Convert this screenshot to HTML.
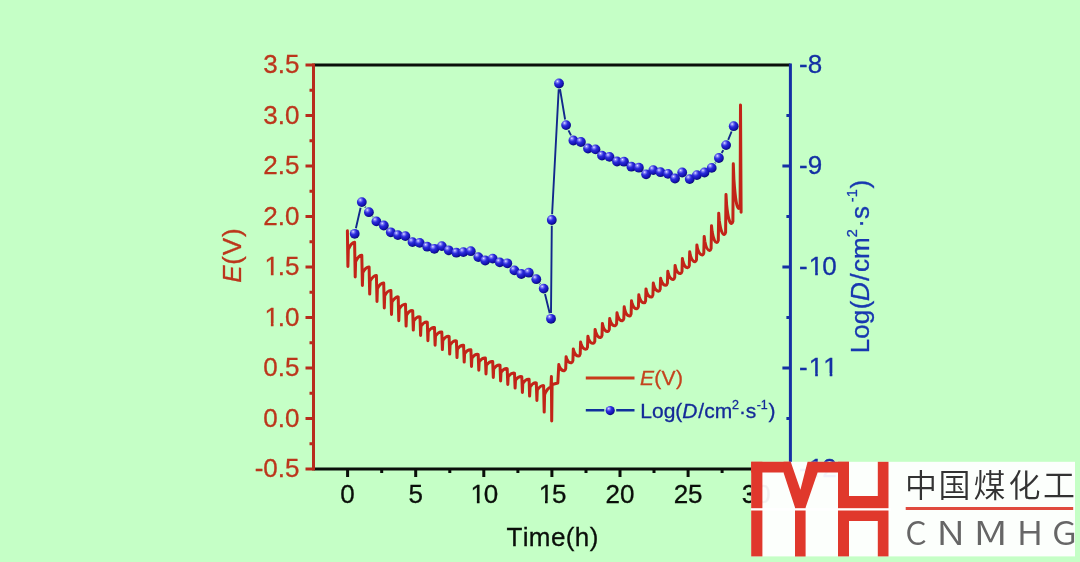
<!DOCTYPE html>
<html><head><meta charset="utf-8"><style>html,body{margin:0;padding:0;background:#c5ffc6;}svg{display:block;font-kerning:none;font-feature-settings:"kern" 0}</style></head>
<body><svg width="1080" height="562" viewBox="0 0 1080 562">
<rect x="0" y="0" width="1080" height="562" fill="#c5ffc6"/>
<path d="M347.4,230.7 L347.9,266.4 L348.3,249.5 C349.8,245.5 352.7,241.8 354.6,242.2 L355.2,277.0 L355.6,261.7 C357.1,258.1 359.9,254.8 361.8,255.2 L362.4,285.4 L362.8,272.5 C364.3,269.5 367.2,266.6 369.1,267.0 L369.7,294.1 L370.1,281.1 C371.6,278.0 374.5,275.1 376.4,275.5 L377.0,301.4 L377.4,288.5 C378.9,285.5 381.8,282.6 383.7,283.0 L384.3,307.9 L384.7,295.7 C386.2,292.8 389.0,290.1 390.9,290.5 L391.5,314.4 L391.9,302.1 C393.4,299.3 396.3,296.5 398.2,296.9 L398.8,320.7 L399.2,309.1 C400.7,306.4 403.6,303.8 405.5,304.2 L406.1,326.1 L406.5,315.2 C408.0,312.7 410.8,310.2 412.7,310.6 L413.3,330.1 L413.7,320.9 C415.2,318.7 418.1,316.5 420.0,316.9 L420.6,335.4 L421.0,326.2 C422.5,324.0 425.4,321.8 427.3,322.2 L427.9,340.7 L428.3,331.5 C429.8,329.3 432.6,327.1 434.5,327.5 L435.1,345.2 L435.5,336.0 C437.0,333.8 439.9,331.6 441.8,332.0 L442.4,349.6 L442.8,340.4 C444.3,338.2 447.2,336.0 449.1,336.4 L449.7,354.1 L450.1,344.9 C451.6,342.7 454.5,340.5 456.4,340.9 L457.0,357.6 L457.4,349.0 C458.9,347.0 461.7,344.9 463.6,345.3 L464.2,362.1 L464.6,353.5 C466.1,351.5 469.0,349.4 470.9,349.8 L471.5,366.5 L471.9,358.0 C473.4,356.0 476.3,354.0 478.2,354.4 L478.8,370.3 L479.2,361.7 C480.7,359.7 483.5,357.6 485.4,358.0 L486.0,373.9 L486.4,365.2 C487.9,363.2 490.8,361.1 492.7,361.5 L493.3,377.4 L493.7,368.8 C495.2,366.8 498.1,364.7 500.0,365.1 L500.6,381.0 L501.0,372.4 C502.5,370.4 505.3,368.3 507.2,368.7 L507.8,384.5 L508.2,376.5 C509.7,374.6 512.6,372.7 514.5,373.1 L515.1,388.1 L515.5,380.1 C517.0,378.2 519.9,376.3 521.8,376.7 L522.4,392.5 L522.8,383.3 C524.3,381.1 527.1,378.9 529.1,379.3 L529.6,396.1 L530.1,386.9 C531.6,384.7 534.4,382.5 536.3,382.9 L536.9,400.5 L537.3,390.1 C538.8,387.6 541.7,385.2 543.6,385.6 L544.2,412.1 L544.6,394.7 C546.1,390.6 549.0,386.8 550.9,387.2 L551.4,376.5 L551.7,421.0 L552.1,384.5 L557.8,383.0 L558.8,364.6 L559.4,366.7 Q561.4,371.3 564.5,370.7 Q565.2,370.7 565.7,368.7 L566.1,356.7 L566.7,358.8 Q568.7,363.3 571.7,362.7 Q572.4,362.7 572.9,360.7 L573.3,348.9 L573.9,351.4 Q575.9,356.6 579.0,356.0 Q579.7,356.0 580.2,354.0 L580.6,342.1 L581.2,344.5 Q583.2,349.7 586.3,349.1 Q587.0,349.1 587.5,347.1 L587.9,336.2 L588.5,338.7 Q590.5,343.9 593.5,343.3 Q594.2,343.3 594.8,341.3 L595.1,329.4 L595.8,332.2 Q597.8,338.0 600.8,337.4 Q601.5,337.4 602.0,335.4 L602.4,323.4 L603.0,326.2 Q605.0,332.1 608.1,331.5 Q608.8,331.5 609.3,329.5 L609.7,318.6 L610.3,321.1 Q612.3,326.3 615.4,325.7 Q616.1,325.7 616.6,323.7 L617.0,312.7 L617.6,315.5 Q619.6,321.3 622.6,320.7 Q623.3,320.7 623.8,318.7 L624.2,306.8 L624.8,310.0 Q626.8,316.5 629.9,315.9 Q630.6,315.9 631.1,313.9 L631.5,300.7 L632.1,303.5 Q634.1,309.3 637.2,308.7 Q637.9,308.7 638.4,306.7 L638.8,294.8 L639.4,297.6 Q641.4,303.4 644.4,302.8 Q645.1,302.8 645.6,300.8 L646.0,288.9 L646.6,291.7 Q648.6,297.6 651.7,297.0 Q652.4,297.0 652.9,295.0 L653.3,283.0 L653.9,285.8 Q655.9,291.7 659.0,291.1 Q659.7,291.1 660.2,289.1 L660.6,278.2 L661.2,280.6 Q663.2,285.8 666.2,285.2 Q666.9,285.2 667.4,283.2 L667.8,271.3 L668.4,274.1 Q670.4,280.0 673.5,279.4 Q674.2,279.4 674.7,277.4 L675.1,265.4 L675.7,268.2 Q677.7,274.1 680.8,273.5 Q681.5,273.5 682.0,271.5 L682.4,258.6 L683.0,261.7 Q685.0,268.2 688.1,267.6 Q688.8,267.6 689.3,265.6 L689.7,251.7 L690.3,255.2 Q692.3,262.3 695.3,261.7 Q696.0,261.7 696.5,259.7 L696.9,244.9 L697.5,248.4 Q699.5,255.5 702.6,254.9 Q703.3,254.9 703.8,252.9 L704.2,236.4 L704.8,241.3 Q706.8,251.1 709.9,250.5 Q710.6,250.5 711.1,248.5 L711.5,225.7 L712.1,231.6 Q714.1,243.1 717.1,242.5 Q717.8,242.5 718.3,240.5 L718.7,213.2 L719.3,220.7 Q721.3,235.1 724.4,234.5 Q725.1,234.5 725.6,232.5 L726.0,194.5 L726.6,204.6 Q728.6,224.0 731.7,223.4 Q732.4,223.4 732.9,221.4 L733.3,163.7 L733.9,179.3 Q735.9,209.0 738.9,208.4 Q739.6,208.4 740.1,206.4 L740.5,105.1 L741.1,212.2" fill="none" stroke="#c22418" stroke-width="3" stroke-linejoin="round" stroke-linecap="round"/>
<path d="M355.9,228.2L360.6,207.7M365.1,206.8L365.6,207.5M372.5,216.6L372.8,217.0M539.8,283.7L540.2,284.1M545.0,294.1L549.7,313.3M551.0,313.1L551.8,225.7M552.1,214.3L558.7,89.2M560.0,89.1L565.1,119.5M568.5,130.3L571.0,135.3M715.1,163.3L715.5,162.6M721.7,153.0L723.3,150.1M728.2,139.8L731.6,131.5" fill="none" stroke="#12288c" stroke-width="1.9"/>
<defs><radialGradient id="sph" cx="0.36" cy="0.3" r="0.72" fx="0.34" fy="0.28"><stop offset="0" stop-color="#e8e8ff"/><stop offset="0.16" stop-color="#8888f8"/><stop offset="0.42" stop-color="#2c2cdc"/><stop offset="0.8" stop-color="#1212b0"/><stop offset="1" stop-color="#0a0a6e"/></radialGradient></defs>
<circle cx="354.7" cy="233.8" r="4.9" fill="url(#sph)"/>
<circle cx="361.8" cy="202.1" r="4.9" fill="url(#sph)"/>
<circle cx="368.9" cy="212.2" r="4.9" fill="url(#sph)"/>
<circle cx="376.4" cy="221.4" r="4.9" fill="url(#sph)"/>
<circle cx="383.8" cy="225.5" r="4.9" fill="url(#sph)"/>
<circle cx="390.8" cy="232.3" r="4.9" fill="url(#sph)"/>
<circle cx="397.9" cy="235.1" r="4.9" fill="url(#sph)"/>
<circle cx="405.4" cy="236.1" r="4.9" fill="url(#sph)"/>
<circle cx="412.5" cy="242.1" r="4.9" fill="url(#sph)"/>
<circle cx="419.7" cy="242.9" r="4.9" fill="url(#sph)"/>
<circle cx="427.2" cy="246.7" r="4.9" fill="url(#sph)"/>
<circle cx="434.4" cy="248.8" r="4.9" fill="url(#sph)"/>
<circle cx="441.8" cy="246.1" r="4.9" fill="url(#sph)"/>
<circle cx="448.7" cy="250.3" r="4.9" fill="url(#sph)"/>
<circle cx="456.4" cy="252.7" r="4.9" fill="url(#sph)"/>
<circle cx="463.4" cy="252.1" r="4.9" fill="url(#sph)"/>
<circle cx="470.8" cy="251.2" r="4.9" fill="url(#sph)"/>
<circle cx="478.3" cy="257.1" r="4.9" fill="url(#sph)"/>
<circle cx="485.2" cy="260.5" r="4.9" fill="url(#sph)"/>
<circle cx="492.7" cy="258.6" r="4.9" fill="url(#sph)"/>
<circle cx="499.8" cy="262.4" r="4.9" fill="url(#sph)"/>
<circle cx="507.3" cy="263.3" r="4.9" fill="url(#sph)"/>
<circle cx="514.4" cy="270.4" r="4.9" fill="url(#sph)"/>
<circle cx="521.3" cy="274" r="4.9" fill="url(#sph)"/>
<circle cx="528.8" cy="272.7" r="4.9" fill="url(#sph)"/>
<circle cx="536.3" cy="279.2" r="4.9" fill="url(#sph)"/>
<circle cx="543.7" cy="288.6" r="4.9" fill="url(#sph)"/>
<circle cx="551.0" cy="318.8" r="4.9" fill="url(#sph)"/>
<circle cx="551.8" cy="220.0" r="4.9" fill="url(#sph)"/>
<circle cx="559" cy="83.5" r="4.9" fill="url(#sph)"/>
<circle cx="566.1" cy="125.1" r="4.9" fill="url(#sph)"/>
<circle cx="573.4" cy="140.5" r="4.9" fill="url(#sph)"/>
<circle cx="580.9" cy="142" r="4.9" fill="url(#sph)"/>
<circle cx="588" cy="148.5" r="4.9" fill="url(#sph)"/>
<circle cx="595.5" cy="149.4" r="4.9" fill="url(#sph)"/>
<circle cx="602" cy="155.6" r="4.9" fill="url(#sph)"/>
<circle cx="609.5" cy="156.9" r="4.9" fill="url(#sph)"/>
<circle cx="617" cy="161.5" r="4.9" fill="url(#sph)"/>
<circle cx="624" cy="161.7" r="4.9" fill="url(#sph)"/>
<circle cx="631.4" cy="166.7" r="4.9" fill="url(#sph)"/>
<circle cx="638.9" cy="167.7" r="4.9" fill="url(#sph)"/>
<circle cx="646.1" cy="174.3" r="4.9" fill="url(#sph)"/>
<circle cx="653.3" cy="170.1" r="4.9" fill="url(#sph)"/>
<circle cx="660.5" cy="172.2" r="4.9" fill="url(#sph)"/>
<circle cx="668" cy="173.9" r="4.9" fill="url(#sph)"/>
<circle cx="675" cy="178.5" r="4.9" fill="url(#sph)"/>
<circle cx="682.2" cy="172.5" r="4.9" fill="url(#sph)"/>
<circle cx="689.7" cy="179.1" r="4.9" fill="url(#sph)"/>
<circle cx="696.9" cy="175.1" r="4.9" fill="url(#sph)"/>
<circle cx="704.5" cy="172.5" r="4.9" fill="url(#sph)"/>
<circle cx="711.7" cy="167.9" r="4.9" fill="url(#sph)"/>
<circle cx="718.9" cy="158" r="4.9" fill="url(#sph)"/>
<circle cx="726.1" cy="145.1" r="4.9" fill="url(#sph)"/>
<circle cx="733.7" cy="126.2" r="4.9" fill="url(#sph)"/>
<line x1="313.5" y1="65.0" x2="790.4" y2="65.0" stroke="#0a0f0a" stroke-width="3"/>
<line x1="313.5" y1="469.0" x2="790.4" y2="469.0" stroke="#0a0f0a" stroke-width="3"/>
<line x1="313.5" y1="63.5" x2="313.5" y2="470.5" stroke="#b82c1c" stroke-width="3"/>
<line x1="790.4" y1="63.5" x2="790.4" y2="470.5" stroke="#1430a4" stroke-width="3"/>
<path d="M305.5,469.0H313.5M309.5,443.75H313.5M305.5,418.5H313.5M309.5,393.25H313.5M305.5,368.0H313.5M309.5,342.75H313.5M305.5,317.5H313.5M309.5,292.25H313.5M305.5,267.0H313.5M309.5,241.75H313.5M305.5,216.5H313.5M309.5,191.25H313.5M305.5,166.0H313.5M309.5,140.75H313.5M305.5,115.5H313.5M309.5,90.25H313.5M305.5,65.0H313.5" stroke="#b82c1c" stroke-width="3" fill="none"/>
<path d="M786.4,115.5H790.4M782.4,166H790.4M786.4,216.5H790.4M782.4,267H790.4M786.4,317.5H790.4M782.4,368H790.4M786.4,418.5H790.4M782.4,469H790.4" stroke="#1430a4" stroke-width="3" fill="none"/>
<path d="M347.6,469.0V477.0M415.7,469.0V477.0M483.8,469.0V477.0M551.9,469.0V477.0M620.0,469.0V477.0M688.1,469.0V477.0M756.2,469.0V477.0M381.7,469.0V473.0M449.8,469.0V473.0M517.9,469.0V473.0M586.0,469.0V473.0M654.0,469.0V473.0M722.1,469.0V473.0" stroke="#0a0f0a" stroke-width="3" fill="none"/>
<text x="254.70" y="477.3" font-family="Liberation Sans, sans-serif" font-size="26" fill="#bc361c" stroke="#bc361c" stroke-width="0.3">-0.5</text>
<text x="263.36" y="426.8" font-family="Liberation Sans, sans-serif" font-size="26" fill="#bc361c" stroke="#bc361c" stroke-width="0.3">0.0</text>
<text x="263.36" y="376.3" font-family="Liberation Sans, sans-serif" font-size="26" fill="#bc361c" stroke="#bc361c" stroke-width="0.3">0.5</text>
<clipPath id="c1" clipPathUnits="userSpaceOnUse"><rect x="258.4" y="285.8" width="46.1" height="37.4"/><rect x="270.9" y="315.8" width="2.6" height="14"/><rect x="278.3" y="315.8" width="7.2" height="14"/><rect x="285.5" y="315.8" width="14.5" height="14"/></clipPath>
<text x="263.36" y="325.8" font-family="Liberation Sans, sans-serif" font-size="26" fill="#bc361c" stroke="#bc361c" stroke-width="0.3" clip-path="url(#c1)"><tspan dx="1.2">1</tspan><tspan dx="-1.2">.</tspan>0</text>
<clipPath id="c2" clipPathUnits="userSpaceOnUse"><rect x="258.4" y="235.3" width="46.1" height="37.4"/><rect x="270.9" y="265.3" width="2.6" height="14"/><rect x="278.3" y="265.3" width="7.2" height="14"/><rect x="285.5" y="265.3" width="14.5" height="14"/></clipPath>
<text x="263.36" y="275.3" font-family="Liberation Sans, sans-serif" font-size="26" fill="#bc361c" stroke="#bc361c" stroke-width="0.3" clip-path="url(#c2)"><tspan dx="1.2">1</tspan><tspan dx="-1.2">.</tspan>5</text>
<text x="263.36" y="224.8" font-family="Liberation Sans, sans-serif" font-size="26" fill="#bc361c" stroke="#bc361c" stroke-width="0.3">2.0</text>
<text x="263.36" y="174.3" font-family="Liberation Sans, sans-serif" font-size="26" fill="#bc361c" stroke="#bc361c" stroke-width="0.3">2.5</text>
<text x="263.36" y="123.8" font-family="Liberation Sans, sans-serif" font-size="26" fill="#bc361c" stroke="#bc361c" stroke-width="0.3">3.0</text>
<text x="263.36" y="73.3" font-family="Liberation Sans, sans-serif" font-size="26" fill="#bc361c" stroke="#bc361c" stroke-width="0.3">3.5</text>
<text x="799.00" y="72.8" font-family="Liberation Sans, sans-serif" font-size="26" fill="#1430a4" stroke="#1430a4" stroke-width="0.3">-8</text>
<text x="799.00" y="173.8" font-family="Liberation Sans, sans-serif" font-size="26" fill="#1430a4" stroke="#1430a4" stroke-width="0.3">-9</text>
<clipPath id="c3" clipPathUnits="userSpaceOnUse"><rect x="794.0" y="234.8" width="47.6" height="37.4"/><rect x="799.5" y="264.8" width="8.7" height="14"/><rect x="815.2" y="264.8" width="2.6" height="14"/><rect x="822.6" y="264.8" width="14.5" height="14"/></clipPath>
<text x="799.00" y="274.8" font-family="Liberation Sans, sans-serif" font-size="26" fill="#1430a4" stroke="#1430a4" stroke-width="0.3" clip-path="url(#c3)">-<tspan dx="1.2">1</tspan><tspan dx="-1.2">0</tspan></text>
<clipPath id="c4" clipPathUnits="userSpaceOnUse"><rect x="794.0" y="335.8" width="47.6" height="37.4"/><rect x="799.5" y="365.8" width="8.7" height="14"/><rect x="815.2" y="365.8" width="2.6" height="14"/><rect x="829.7" y="365.8" width="2.6" height="14"/></clipPath>
<text x="799.00" y="375.8" font-family="Liberation Sans, sans-serif" font-size="26" fill="#1430a4" stroke="#1430a4" stroke-width="0.3" clip-path="url(#c4)">-<tspan dx="1.2">1</tspan>1</text>
<clipPath id="c5" clipPathUnits="userSpaceOnUse"><rect x="794.0" y="436.8" width="47.6" height="37.4"/><rect x="799.5" y="466.8" width="8.7" height="14"/><rect x="815.2" y="466.8" width="2.6" height="14"/><rect x="822.6" y="466.8" width="14.5" height="14"/></clipPath>
<text x="799.00" y="476.8" font-family="Liberation Sans, sans-serif" font-size="26" fill="#1430a4" stroke="#1430a4" stroke-width="0.3" clip-path="url(#c5)">-<tspan dx="1.2">1</tspan><tspan dx="-1.2">2</tspan></text>
<text x="340.37" y="503.0" font-family="Liberation Sans, sans-serif" font-size="26" fill="#0a0f0a" stroke="#0a0f0a" stroke-width="0.3">0</text>
<text x="408.47" y="503.0" font-family="Liberation Sans, sans-serif" font-size="26" fill="#0a0f0a" stroke="#0a0f0a" stroke-width="0.3">5</text>
<clipPath id="c6" clipPathUnits="userSpaceOnUse"><rect x="464.3" y="463.0" width="38.9" height="37.4"/><rect x="476.9" y="493.0" width="2.6" height="14"/><rect x="484.3" y="493.0" width="14.5" height="14"/></clipPath>
<text x="469.34" y="503.0" font-family="Liberation Sans, sans-serif" font-size="26" fill="#0a0f0a" stroke="#0a0f0a" stroke-width="0.3" clip-path="url(#c6)"><tspan dx="1.2">1</tspan><tspan dx="-1.2">0</tspan></text>
<clipPath id="c7" clipPathUnits="userSpaceOnUse"><rect x="532.4" y="463.0" width="38.9" height="37.4"/><rect x="545.0" y="493.0" width="2.6" height="14"/><rect x="552.4" y="493.0" width="14.5" height="14"/></clipPath>
<text x="537.44" y="503.0" font-family="Liberation Sans, sans-serif" font-size="26" fill="#0a0f0a" stroke="#0a0f0a" stroke-width="0.3" clip-path="url(#c7)"><tspan dx="1.2">1</tspan><tspan dx="-1.2">5</tspan></text>
<text x="605.54" y="503.0" font-family="Liberation Sans, sans-serif" font-size="26" fill="#0a0f0a" stroke="#0a0f0a" stroke-width="0.3">20</text>
<text x="673.64" y="503.0" font-family="Liberation Sans, sans-serif" font-size="26" fill="#0a0f0a" stroke="#0a0f0a" stroke-width="0.3">25</text>
<text x="741.74" y="503.0" font-family="Liberation Sans, sans-serif" font-size="26" fill="#0a0f0a" stroke="#0a0f0a" stroke-width="0.3">30</text>
<text x="552.6" y="546.2" font-family="Liberation Sans, sans-serif" font-size="26" fill="#0a0f0a" stroke="#0a0f0a" stroke-width="0.3" text-anchor="middle" letter-spacing="0.4">Time(h)</text>
<text transform="translate(241.2,255.2) rotate(-90)" font-family="Liberation Sans, sans-serif" font-size="26" fill="#bc361c" stroke="#bc361c" stroke-width="0.3" text-anchor="middle" letter-spacing="0.8"><tspan font-style="italic">E</tspan>(V)</text>
<text transform="translate(868.8,353.2) rotate(-90)" font-family="Liberation Sans, sans-serif" font-size="26" fill="#1838b0" stroke="#1838b0" stroke-width="0.3">Log<tspan dx="0.6">(</tspan><tspan font-style="italic" dx="-0.5">D</tspan><tspan dx="1.5">/</tspan><tspan dx="1.6">cm</tspan><tspan font-size="14.5" dy="-11.5">2</tspan><tspan dy="11.5" dx="1.5">·s</tspan><tspan font-size="14.5" dy="-11.5" dx="3.8">-1</tspan><tspan dy="11.5" dx="0.8">)</tspan></text>
<line x1="585.8" y1="378" x2="634.5" y2="378" stroke="#c83a1a" stroke-width="3"/>
<text x="640" y="385.3" font-family="Liberation Sans, sans-serif" font-size="21" fill="#c4441e" stroke="#c4441e" stroke-width="0.3" letter-spacing="0.3"><tspan font-style="italic">E</tspan>(V)</text>
<path d="M585.8,410.2H604.3M616.2,410.2H634.5" stroke="#10309c" stroke-width="2.4"/>
<circle cx="610.2" cy="410.6" r="4.6" fill="url(#sph)"/>
<text x="640.3" y="418.0" font-family="Liberation Sans, sans-serif" font-size="21" fill="#142a98" stroke="#142a98" stroke-width="0.3">Log(<tspan font-style="italic">D</tspan><tspan dx="0.8">/cm</tspan><tspan font-size="12.5" dy="-9" dx="-0.2">2</tspan><tspan dy="9" dx="0">·s</tspan><tspan font-size="12.5" dy="-9" dx="0.3">-1</tspan><tspan dy="9" dx="0.6">)</tspan></text>
<g>
<rect x="751.2" y="461.8" width="323.8" height="94.6" fill="#ffffff" fill-opacity="0.94"/>
<rect x="751.2" y="461.8" width="11.2" height="94.6" fill="#e0382c"/>
<polygon points="751.2,461.8 790.7,461.8 783.5,472.4 751.2,472.4" fill="#e0382c"/>
<polygon points="783.6,461.8 790.7,461.8 800.4,489.7 807.6,461.8 849,461.8 849,472.4 817.6,472.4 805.6,507.5 805.6,556.4 795,556.4 795,507.5 783.5,472.4" fill="#e0382c"/>
<rect x="838" y="461.8" width="11" height="94.6" fill="#e0382c"/>
<rect x="877.8" y="461.8" width="10.7" height="94.6" fill="#e0382c"/>
<rect x="849" y="496" width="29" height="25" fill="#e0382c"/>
<rect x="751" y="508.2" width="140" height="2.3" fill="#ffffff"/>
<text x="905.1" y="497.1" font-family="Liberation Sans, Noto Sans CJK SC, sans-serif" font-weight="350" font-size="32" fill="#333333">中</text>
<text x="938.4" y="497.1" font-family="Liberation Sans, Noto Sans CJK SC, sans-serif" font-weight="350" font-size="32" fill="#333333">国</text>
<text x="973.5" y="497.1" font-family="Liberation Sans, Noto Sans CJK SC, sans-serif" font-weight="350" font-size="32" fill="#333333">煤</text>
<text x="1008.5" y="497.1" font-family="Liberation Sans, Noto Sans CJK SC, sans-serif" font-weight="350" font-size="32" fill="#333333">化</text>
<text x="1043" y="497.1" font-family="Liberation Sans, Noto Sans CJK SC, sans-serif" font-weight="350" font-size="32" fill="#333333">工</text>
<rect x="905.7" y="507" width="167.5" height="3" fill="#e04a3e"/>
<text transform="translate(905.2,545) scale(1.03,1)" font-family="Noto Sans CJK SC, sans-serif" font-weight="350" font-size="33" fill="#666666">C</text>
<text transform="translate(936.6,545) scale(1.2,1)" font-family="Noto Sans CJK SC, sans-serif" font-weight="350" font-size="33" fill="#666666">N</text>
<text transform="translate(973.6,545) scale(1.29,1)" font-family="Noto Sans CJK SC, sans-serif" font-weight="350" font-size="33" fill="#666666">M</text>
<text transform="translate(1016.8,545) scale(1.11,1)" font-family="Noto Sans CJK SC, sans-serif" font-weight="350" font-size="33" fill="#666666">H</text>
<text transform="translate(1052.1,545) scale(1.1,1)" font-family="Noto Sans CJK SC, sans-serif" font-weight="350" font-size="33" fill="#666666">G</text>
</g>
</svg></body></html>
